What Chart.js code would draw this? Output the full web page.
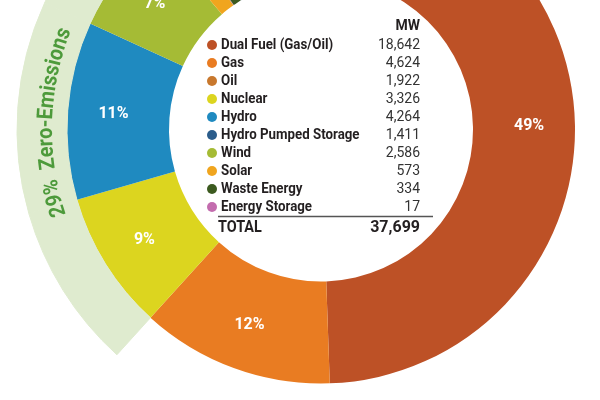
<!DOCTYPE html>
<html>
<head>
<meta charset="utf-8">
<script src="https://cdn.jsdelivr.net/npm/chart.js@4.4.1/dist/chart.umd.min.js"></script>
<style>
    html, body { margin: 0; padding: 0; background: #fff; overflow: hidden; }
    #wrap { width: 600px; height: 400px; }
</style>
</head>
<body>
<div id="wrap"><canvas id="capacityChart" width="600" height="400"></canvas></div>
<script>
// categories in the order of the table inside the ring
const fuelNames = ['Dual Fuel (Gas/Oil)', 'Gas', 'Oil', 'Nuclear', 'Hydro', 'Hydro Pumped Storage', 'Wind', 'Solar', 'Waste Energy', 'Energy Storage'];
const fuelMW = [18642, 4624, 1922, 3326, 4264, 1411, 2586, 573, 334, 17];
const fuelColors = ['#bd5126', '#e97c22', '#c8782d', '#dcd51f', '#1f8ac0', '#2b5d8b', '#a5bb35', '#f0a51e', '#3c5a1f', '#c36cae'];
const zeroEmission = [false, false, false, true, true, false, true, true, false, true];

// order of the slices round the ring, clockwise from the top
const ringOrder = [0, 1, 3, 4, 6, 7, 9, 8, 5, 2];

const bandText = '29%  Zero-Emissions';
const headerText = 'MW';
const totalText = 'TOTAL';

// colours
const bandColor = '#dfebcf';
const bandTextColor = '#4d9a3b';
const textColor = '#231f20';
const valueColor = '#333333';

// build the ring data from the arrays above
const ringNames = ringOrder.map((i) => fuelNames[i]);
const ringValues = ringOrder.map((i) => fuelMW[i]);
const ringFill = ringOrder.map((i) => fuelColors[i]);
const bandFill = ringOrder.map((i) => zeroEmission[i] ? bandColor : 'rgba(0,0,0,0)');
const totalMW = fuelMW.reduce((a, b) => a + b, 0);

const fmt = (n) => n.toLocaleString('en-US');

//draws the percent labels, the curved band title and the table in the hole
const ringTextPlugin = {
    id: 'ringText',
    afterDatasetsDraw(chart) {
        const ctx = chart.ctx;
        const band = chart.getDatasetMeta(0);
        const ring = chart.getDatasetMeta(1);
        const cx = ring.data[0].x;
        const cy = ring.data[0].y;

        // percent labels on the big slices
        ctx.save();
        ctx.fillStyle = '#ffffff';
        ctx.font = 'bold 16px Roboto';
        ctx.textAlign = 'center';
        ctx.textBaseline = 'middle';
        ring.data.forEach((arc, i) => {
            const pct = ringValues[i] / totalMW * 100;
            if (pct < 5) return;
            const mid = (arc.startAngle + arc.endAngle) / 2;
            const r = arc.innerRadius + (arc.outerRadius - arc.innerRadius) * 0.55;
            ctx.fillText(Math.round(pct) + '%', cx + Math.cos(mid) * r, cy + Math.sin(mid) * r);
        });
        ctx.restore();

        // curved text in the zero emission band
        const zArcs = band.data.filter((a, i) => zeroEmission[ringOrder[i]]);
        const startA = zArcs[0].startAngle;
        const endA = zArcs[zArcs.length - 1].endAngle;
        const midA = (startA + endA) / 2 - 0.035; // sits a touch lower than the middle
        const rText = zArcs[0].innerRadius + 15;
        const bandSqueeze = 0.9;
        ctx.save();
        ctx.font = 'bold 22px Roboto';
        ctx.fillStyle = bandTextColor;
        ctx.textAlign = 'center';
        ctx.textBaseline = 'alphabetic';
        const chars = bandText.split('');
        const widths = chars.map((c) => ctx.measureText(c).width * bandSqueeze);
        const totalW = widths.reduce((a, b) => a + b, 0);
        let a = midA - totalW / 2 / rText;
        chars.forEach((c, i) => {
            const ca = a + widths[i] / 2 / rText;
            ctx.save();
            ctx.translate(cx + Math.cos(ca) * rText, cy + Math.sin(ca) * rText);
            ctx.rotate(ca + Math.PI / 2);
            ctx.scale(bandSqueeze, 1);
            ctx.fillText(c, 0, 0);
            ctx.restore();
            a += widths[i] / rText;
        });
        ctx.restore();

        // table in the hole
        const dotX = cx - 109;
        const nameX = cx - 100;
        const valX = cx + 99;
        const row0 = cy - 84.5;
        const step = 18;
        const squeeze = 0.95;

        ctx.save();
        ctx.textBaseline = 'middle';

        ctx.fillStyle = textColor;
        ctx.font = 'bold 14px Roboto';
        ctx.textAlign = 'right';
        ctx.fillText(headerText, valX, row0 - 19);

        fuelNames.forEach((name, i) => {
            const y = row0 + i * step;
            ctx.beginPath();
            ctx.arc(dotX, y, 5, 0, Math.PI * 2);
            ctx.fillStyle = fuelColors[i];
            ctx.fill();

            ctx.save();
            ctx.translate(nameX, y);
            ctx.scale(squeeze, 1);
            ctx.fillStyle = textColor;
            ctx.font = 'bold 14px Roboto';
            ctx.textAlign = 'left';
            ctx.fillText(name, 0, 0);
            ctx.restore();

            ctx.fillStyle = valueColor;
            ctx.font = '14px Roboto';
            ctx.textAlign = 'right';
            ctx.fillText(fmt(fuelMW[i]), valX, y);
        });

        // rule under the last row
        const lineY = row0 + 9 * step + 9.5;
        ctx.beginPath();
        ctx.moveTo(cx - 103, lineY);
        ctx.lineTo(cx + 112, lineY);
        ctx.strokeStyle = '#555555';
        ctx.lineWidth = 1.5;
        ctx.stroke();

        const totY = lineY + 11.5;
        ctx.save();
        ctx.translate(cx - 103, totY);
        ctx.scale(0.9, 1);
        ctx.fillStyle = textColor;
        ctx.font = 'bold 16px Roboto';
        ctx.textAlign = 'left';
        ctx.fillText(totalText, 0, 0);
        ctx.restore();

        ctx.fillStyle = textColor;
        ctx.font = 'bold 16px Roboto';
        ctx.textAlign = 'right';
        ctx.fillText(fmt(totalMW), valX, totY);
        ctx.restore();
    }
};

const chartEl = document.getElementById('capacityChart');

const capacityChart = new Chart(chartEl, {
    type: 'doughnut',
    data: {
        labels: ringNames,
        datasets: [
            {
                label: 'Zero-Emissions',
                data: ringValues,
                backgroundColor: bandFill,
                borderColor: bandFill, // hides the seams between band slices
                borderWidth: 1,
                weight: 50,
                clip: false
            },
            {
                label: 'MW',
                data: ringValues,
                backgroundColor: ringFill,
                borderWidth: 0,
                weight: 102,
                clip: false
            }
        ]
    },
    options: {
        responsive: false,
        animation: false,
        events: [],
        radius: 304,
        cutout: '50%',
        layout: {
            padding: { left: 42, right: 0, top: 0, bottom: 141 }
        },
        plugins: {
            legend: { display: false },
            tooltip: { enabled: false }
        }
    },
    plugins: [ringTextPlugin]
});
</script>
</body>
</html>
